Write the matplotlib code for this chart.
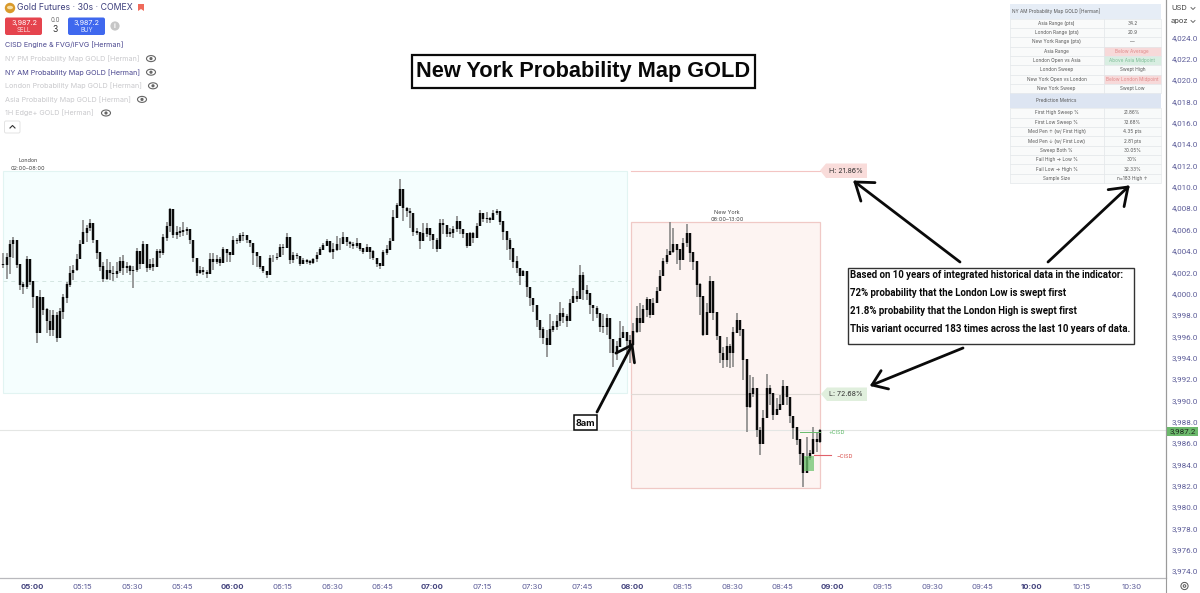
import numpy as np
import matplotlib
matplotlib.use("Agg")
import matplotlib.pyplot as plt
from matplotlib.patches import Rectangle, FancyBboxPatch, Polygon, Circle, Ellipse

# ---------- data ----------
closes = [
4002.7,4003.4,4004.6,4005.0,4002.7,4000.8,4000.6,4003.2,4001.1,3999.7,3996.3,3999.6,3998.5,3997.4,3996.6,3997.9,3995.8,3998.3,3999.6,4000.8,
4001.9,4002.2,4003.2,4004.6,4005.7,4006.1,4006.6,4005.0,4003.8,4002.5,4001.4,4002.2,4001.9,4001.8,4002.1,4003.0,4002.4,4002.5,4002.1,4002.2,
4003.9,4002.8,4004.6,4002.4,4002.7,4002.5,4003.9,4003.8,4005.2,4006.3,4007.9,4005.5,4005.7,4005.8,4005.9,4006.0,4005.0,4003.3,4001.9,4002.2,4002.0,4001.8,
4003.2,4003.0,4003.2,4002.9,4004.1,4003.8,4003.6,4005.0,4004.9,4005.4,4005.4,4005.0,4004.7,4003.8,4003.5,4002.5,4002.1,4001.7,4003.3,4003.3,
4003.4,4004.3,4004.3,4005.2,4003.1,4003.6,4003.5,4002.8,4003.1,4003.0,4002.9,4003.2,4003.6,4004.1,4004.5,4004.9,4003.9,4004.1,4004.6,4004.6,
4005.2,4004.8,4004.6,4004.5,4004.7,4004.2,4003.9,4004.3,4003.9,4003.3,4002.8,4002.6,4003.8,4004.1,4004.9,4007.1,4008.2,4009.7,4008.0,4007.7,4007.5,4005.8,4005.7,
4004.9,4005.6,4006.1,4005.5,4005.0,4004.2,4006.6,4006.4,4005.6,4005.7,4006.0,4006.7,4006.0,4005.6,4004.45,4005.6,4005.2,4006.3,4007.45,4007.0,
4007.0,4006.9,4007.5,4007.7,4006.7,4005.8,4005.0,4004.2,4003.0,4002.35,4001.6,4002.05,4000.6,3999.55,3998.9,3997.5,3996.6,3995.8,3995.2,3996.6,
3996.9,3997.4,3998.1,3997.8,3997.4,3999.1,3999.7,3999.5,4001.7,4000.3,4000.0,3998.9,3998.6,3998.1,3996.9,3996.9,3997.7,3995.7,3994.4,3995.0,3995.8,3996.3,3995.6,
3995.2,3996.4,3997.7,3997.2,3998.5,3999.4,3998.0,3999.1,4000.2,4001.6,4003.0,4003.6,4003.9,4004.6,4004.1,4003.15,4004.7,4005.65,4003.8,4003.0,
4000.8,3999.7,3996.1,3998.2,4001.1,3998.2,3996.0,3994.4,3993.8,3995.0,3994.4,3996.3,3997.5,3996.6,3993.8,3989.4,3990.6,3991.1,3987.2,3985.95,
3988.3,3991.1,3990.6,3988.6,3989.1,3989.6,3991.3,3990.3,3988.5,3987.4,3986.3,3985.0,3983.2,3984.6,3985.0,3986.3,3986.1,3987.2]
highs = [
4003.8,4003.8,4005.0,4005.3,4003.4,4002.3,4001.1,4003.5,4003.2,4001.0,3999.6,4000.3,3999.6,3998.6,3998.5,3998.5,3998.3,3998.6,4000.0,4001.1,
4002.6,4002.7,4003.7,4005.0,4006.9,4006.4,4007.0,4006.2,4005.0,4003.7,4003.0,4003.2,4003.0,4002.6,4003.0,4003.4,4003.6,4003.0,4002.7,4002.6,
4004.3,4003.8,4004.9,4003.6,4003.2,4003.3,4004.2,4004.2,4005.6,4006.7,4008.0,4006.9,4006.3,4006.2,4006.7,4006.2,4005.4,4004.2,4003.0,4002.6,4002.5,4002.2,
4003.8,4003.8,4003.6,4003.4,4004.4,4004.1,4003.9,4005.4,4005.2,4005.7,4005.8,4005.4,4004.9,4004.5,4003.8,4002.9,4002.4,4002.0,4003.6,4003.6,
4003.8,4004.6,4004.6,4005.7,4004.1,4003.85,4003.8,4003.2,4003.3,4003.2,4003.15,4003.3,4003.9,4004.35,4004.75,4005.1,4004.65,4004.7,4005.4,4005.2,
4005.8,4005.0,4004.9,4004.8,4005.2,4004.4,4004.2,4004.6,4004.25,4004.1,4003.15,4002.9,4004.1,4004.55,4005.2,4007.85,4008.5,4010.7,4008.65,4008.15,4008.0,4006.9,4006.1,
4005.6,4006.6,4006.6,4006.0,4005.6,4005.2,4007.0,4007.0,4006.1,4006.1,4006.3,4007.3,4006.4,4006.0,4005.0,4005.8,4005.8,4006.6,4007.8,4007.35,
4007.6,4007.2,4007.8,4007.9,4007.7,4006.6,4005.6,4005.2,4003.3,4003.5,4002.05,4002.2,4001.9,4000.0,3999.4,3998.1,3997.0,3996.9,3996.6,3998.1,
3997.4,3998.0,3999.2,3998.6,3998.1,3999.5,4000.5,4000.2,4002.7,4002.0,4000.8,3999.7,3998.9,3998.8,3997.8,3998.1,3998.1,3996.6,3995.2,3995.6,3997.4,3997.0,3996.1,
3996.1,3997.2,3998.8,3999.1,3998.9,3999.65,3999.4,3999.55,4000.65,4002.2,4003.3,4004.2,4006.7,4006.1,4004.55,4004.1,4005.2,4006.5,4005.0,4003.3,
4002.2,4001.0,3998.15,3999.1,4001.6,3999.9,3997.8,3995.5,3995.0,3995.9,3995.3,3996.9,3998.2,3997.2,3996.0,3991.6,3992.4,3992.2,3990.8,3987.5,
3989.1,3992.5,3991.4,3989.9,3990.2,3990.5,3991.9,3991.0,3990.3,3988.0,3986.9,3985.95,3984.7,3986.6,3985.3,3987.5,3987.05,3987.3]
lows = [
4002.4,4001.4,4001.8,4003.3,4002.4,4000.3,4000.0,4000.4,4000.8,3998.6,3995.4,3997.0,3998.0,3996.3,3996.0,3996.0,3995.5,3996.9,3997.6,3999.1,
4000.6,4001.3,4002.1,4003.4,4004.9,4004.8,4005.9,4004.7,4003.2,4002.1,4001.1,4001.3,4001.3,4001.2,4001.5,4001.9,4001.7,4001.9,4001.7,4000.5,
4002.0,4002.3,4003.0,4002.0,4002.2,4002.1,4002.9,4003.3,4003.6,4004.9,4005.8,4005.2,4005.1,4005.3,4005.4,4005.5,4004.6,4003.0,4001.6,4001.8,4001.7,4001.5,
4002.9,4002.2,4002.8,4002.6,4003.3,4003.0,4003.0,4004.1,4004.6,4004.7,4004.9,4004.7,4004.4,4002.7,4002.5,4002.3,4001.9,4001.5,4002.2,4003.0,
4003.1,4003.6,4003.6,4004.3,4002.8,4002.85,4003.2,4002.6,4002.85,4002.75,4002.7,4002.8,4003.0,4003.8,4004.25,4004.65,4003.8,4003.2,4003.95,4004.1,
4004.6,4004.5,4004.25,4004.15,4004.25,4003.95,4003.7,4003.95,4003.2,4003.1,4002.5,4002.3,4002.85,4003.6,4004.35,4005.65,4007.5,4008.65,4006.75,4007.2,4006.1,4005.4,4005.5,
4004.2,4005.0,4005.3,4004.9,4004.2,4003.9,4005.8,4005.6,4005.3,4005.3,4005.2,4005.8,4005.6,4005.2,4004.3,4004.9,4004.7,4005.5,4006.6,4006.7,
4006.6,4006.6,4007.2,4007.35,4006.4,4005.0,4004.1,4003.1,4002.35,4001.9,4000.8,4001.7,3999.7,3998.8,3998.3,3996.9,3995.8,3995.3,3994.1,3996.0,
3996.4,3996.6,3997.0,3997.2,3996.9,3997.7,3999.2,3999.2,4000.3,3999.4,3999.4,3998.1,3997.4,3997.7,3996.4,3996.3,3996.1,3994.4,3993.1,3993.8,3995.3,3995.8,3994.4,
3993.5,3996.0,3996.3,3996.4,3997.7,3997.8,3997.7,3998.5,3999.4,4000.8,4002.4,4002.8,4003.8,4003.8,4002.8,4002.2,4003.9,4004.4,4003.0,4002.2,
3999.7,3998.0,3996.0,3996.4,3999.4,3997.5,3995.65,3993.5,3993.0,3993.15,3993.0,3993.15,3996.6,3996.0,3991.9,3987.05,3989.25,3990.3,3986.6,3984.85,
3986.9,3990.3,3989.55,3988.15,3988.6,3989.1,3990.2,3989.55,3987.85,3986.4,3985.8,3983.9,3981.9,3983.8,3984.4,3985.2,3985.2,3986.0]
first_bar_minute = 291.4

london = dict(start=291.3, end=478.5, high=4011.5, low=3990.7, mid=4001.2)
newyork = dict(start=479.7, end=536.4, high=4006.7, low=3981.8)
h_level = 4011.5
l_level = 3990.6
last_price = 3987.2
cisd_up = 3987.0
cisd_down = 3984.85
fvg = dict(start=531.6, end=534.6, high=3984.8, low=3983.4)

time_minutes = list(range(300, 631, 15))
time_labels = ["05:00","05:15","05:30","05:45","06:00","06:15","06:30","06:45","07:00","07:15","07:30","07:45",
               "08:00","08:15","08:30","08:45","09:00","09:15","09:30","09:45","10:00","10:15","10:30"]
price_ticks = list(range(3974, 4025, 2))

table_title = "NY AM Probability Map GOLD [Herman]"
table_a = [("Asia Range (pts)","34.2"),("London Range (pts)","20.9"),("New York Range (pts)","—"),
           ("Asia Range","Below Average"),("London Open vs Asia","Above Asia Midpoint"),
           ("London Sweep","Swept High"),("New York Open vs London","Below London Midpoint"),("New York Sweep","Swept Low")]
table_head2 = "Prediction Metrics"
table_b = [("First High Sweep %","21.86%"),("First Low Sweep %","72.68%"),("Med Pen ↑ (w/ First High)","4.35 pts"),
           ("Med Pen ↓ (w/ First Low)","2.81 pts"),("Sweep Both %","30.05%"),("Fail High → Low %","30%"),
           ("Fail Low → High %","32.33%"),("Sample Size","n=183 High ↑")]
note_lines = ["Based on 10 years of integrated historical data in the indicator:",
              "72% probability that the London Low is swept first",
              "21.8% probability that the London High is swept first",
              "This variant occurred 183 times across the last 10 years of data."]
indicators = [("CISD Engine & FVG/iFVG [Herman]",True,None),("NY PM Probability Map GOLD [Herman]",False,151),
              ("NY AM Probability Map GOLD [Herman]",True,151),("London Probability Map GOLD [Herman]",False,153),
              ("Asia Probability Map GOLD [Herman]",False,142),("1H Edge+ GOLD [Herman]",False,106)]

# ---------- figure ----------
W, H = 1200, 593
plt.rcParams['font.family'] = ['Inter', 'DejaVu Sans']
fig = plt.figure(figsize=(W/100, H/100), dpi=100, facecolor="white")
AX_R, AX_B = 1166, 578
ax = fig.add_axes([0, 1-AX_B/H, AX_R/W, AX_B/H])
ax.set_xlim(290.4, 640.2)
ax.set_ylim(3973.35, 4027.5)
for s in ["top", "left"]:
    ax.spines[s].set_visible(False)
ax.spines["right"].set_color("#9a9a9a"); ax.spines["right"].set_linewidth(0.8)
ax.spines["bottom"].set_color("#b9b9bd"); ax.spines["bottom"].set_linewidth(0.9)
TICK = "#5c5c98"
ax.yaxis.tick_right()
ax.set_yticks(price_ticks)
ax.set_yticklabels([f"{p:,.1f}" for p in price_ticks], fontsize=5.75, color=TICK, family="Roboto")
ax.tick_params(axis="y", length=0, pad=4.2)
ax.set_xticks(time_minutes)
ax.set_xticklabels(time_labels, fontsize=5.6, color=TICK)
ax.tick_params(axis="x", length=0, pad=4.5)
for lab, m in zip(ax.get_xticklabels(), time_minutes):
    if m % 60 == 0:
        lab.set_fontweight("bold"); lab.set_color("#45457f")

ax.add_patch(Rectangle((london["start"], london["low"]), london["end"]-london["start"], london["high"]-london["low"],
                       fc="#f5fefe", ec="#e2f4f2", lw=0.8, zorder=1))
ax.plot([london["start"], london["end"]], [london["mid"]]*2, color="#d5e6e2", lw=0.7, ls=(0, (4, 4)), zorder=1.5)
ax.add_patch(Rectangle((newyork["start"], newyork["low"]), newyork["end"]-newyork["start"], newyork["high"]-newyork["low"],
                       fc="#fdf4f2", ec="#f0c9c6", lw=0.9, zorder=1))
ax.plot([newyork["start"], newyork["end"]], [h_level]*2, color="#f3c5c3", lw=0.8, zorder=1.5)
ax.plot([newyork["start"], newyork["end"]], [l_level]*2, color="#e0dad6", lw=0.8, zorder=1.5)
ax.axhline(last_price, color="#e4e6e4", lw=0.8, zorder=1.6)

n = len(closes)
t = first_bar_minute + np.arange(n)
c = np.array(closes); hi = np.array(highs); lo = np.array(lows)
o = np.r_[c[0], c[:-1]]
ax.vlines(t, lo, hi, color="#7f7f7f", lw=1.1, zorder=3)
ax.vlines(t, np.minimum(o, c), np.maximum(o, c)+0.05, color="#0b0b0b", lw=1.75, zorder=4)

ax.add_patch(Rectangle((fvg["start"], fvg["low"]), fvg["end"]-fvg["start"], fvg["high"]-fvg["low"],
                       fc="#6fc46f", ec="none", alpha=0.75, zorder=5))
ax.plot([530.3, newyork["end"]], [cisd_up]*2, color="#66bb6a", lw=0.7, zorder=5)
ax.plot([534.6, 539.8], [cisd_down]*2, color="#e0606a", lw=0.8, zorder=5)

# ---------- pixel overlay ----------
ov = fig.add_axes([0, 0, 1, 1], facecolor="none")
ov.set_xlim(0, W); ov.set_ylim(H, 0); ov.axis("off")
ov.set_zorder(10)
def txt(x, y, s, size=6, color="#222", ha="left", va="center", weight="normal", family=None, **kw):
    d = dict(fontsize=size, color=color, ha=ha, va=va, fontweight=weight)
    if family: d["family"] = family
    d.update(kw)
    return ov.text(x, y, s, **d)
def box(x0, y0, x1, y1, fc="none", ec="none", lw=0.8, z=2):
    ov.add_patch(Rectangle((x0, y0), x1-x0, y1-y0, fc=fc, ec=ec, lw=lw, zorder=z))
def arrow(x0, y0, x1, y1, head=17, lw=2.0):
    ov.plot([x0, x1], [y0, y1], color="#0a0a0a", lw=lw, solid_capstyle="round", zorder=8)
    a = np.arctan2(y0-y1, x0-x1)
    for d in (0.62, -0.62):
        ov.plot([x1, x1+head*np.cos(a+d)], [y1, y1+head*np.sin(a+d)], color="#0a0a0a", lw=lw, solid_capstyle="round", zorder=8)

# header
ov.add_patch(Circle((10, 8), 5.2, fc="#d99a2b", ec="none"))
ov.add_patch(Ellipse((10, 7.5), 6, 3.5, fc="#f6dfa8", ec="none"))
txt(17, 8, "Gold Futures · 30s · COMEX", 6.3, "#3d3f7c")
ov.add_patch(Polygon([[138, 4], [144, 4], [144, 11], [141, 9], [138, 11]], fc="#ef6a5b", ec="none"))
ov.add_patch(FancyBboxPatch((5, 17.5), 37, 17.5, boxstyle="round,pad=0,rounding_size=2", fc="#e5444e", ec="none"))
ov.add_patch(FancyBboxPatch((68, 17.5), 37, 17.5, boxstyle="round,pad=0,rounding_size=2", fc="#3f68ee", ec="none"))
txt(24, 22.5, "3,987.2", 5.2, "white", ha="center"); txt(24, 30, "SELL", 4.4, "#ffdddd", ha="center")
txt(86.5, 22.5, "3,987.2", 5.2, "white", ha="center"); txt(86.5, 30, "BUY", 4.4, "#dde6ff", ha="center")
txt(55, 19.5, "0.0", 4.4, "#666", ha="center"); txt(55, 30, "3", 6.2, "#333", ha="center")
ov.add_patch(Circle((115, 26), 4.6, fc="#c6c6c6", ec="none")); txt(115, 26, "i", 5, "white", ha="center", weight="bold")
for i, (name, active, eye) in enumerate(indicators):
    y = 45 + i*13.6
    txt(5, y, name, 5.2, "#4a478f" if active else "#c9c9cc")
    if eye:
        ov.add_patch(Ellipse((eye, y), 9, 6, fc="none", ec="#666", lw=0.8))
        ov.add_patch(Circle((eye, y), 1.6, fc="#666", ec="none"))
ov.add_patch(FancyBboxPatch((4.5, 121), 15.5, 12, boxstyle="round,pad=0,rounding_size=1.5", fc="white", ec="#e3e3e3", lw=0.7))
ov.plot([10, 12.5, 15], [128, 125.5, 128], color="#333", lw=0.8)

# title
box(411.5, 54.5, 755, 88, fc="white", ec="#0a0a0a", lw=1.6, z=6)
txt(583, 72, "New York Probability Map GOLD", 15.7, "#080808", ha="center", weight="bold", family="Liberation Sans", zorder=7)

# session labels
txt(28, 161, "London", 4.0, "#444", ha="center"); txt(28, 168, "02:00–08:00", 4.0, "#444", ha="center")
txt(727, 213, "New York", 4.0, "#444", ha="center"); txt(727, 219.5, "08:00–13:00", 4.0, "#444", ha="center")
# tags
ov.add_patch(Polygon([[820, 170.5], [826, 163.5], [867, 163.5], [867, 178], [826, 178]], fc="#f9dcda", ec="none"))
txt(829, 171, "H: 21.86%", 5.1, "#333")
ov.add_patch(Polygon([[821, 394], [827, 387.5], [867, 387.5], [867, 401], [827, 401]], fc="#e0efdd", ec="none"))
txt(829, 394.5, "L: 72.68%", 5.1, "#333")
txt(828, 433, "+CISD", 3.9, "#5fb96a"); txt(836, 456, "−CISD", 3.9, "#d9534f")

# 8am callout and arrows
box(574, 415, 596.5, 430, fc="white", ec="#0a0a0a", lw=1.1, z=6)
txt(585, 423, "8am", 6.6, "#0a0a0a", ha="center", weight="bold", zorder=7)
arrow(597, 412, 632, 345, head=18)
arrow(960, 262, 855, 182, head=20)
arrow(1048, 262, 1128, 187, head=20)
arrow(963, 348, 872, 385, head=17)

# note box
box(848, 267.5, 1134, 344, fc="white", ec="#333", lw=1.0, z=6)
for i, line in enumerate(note_lines):
    txt(850.5, 274.5 + i*18, line, 6.92, "#0a0a0a", weight="bold", family="Roboto", zorder=7)

# probability table
L, M, R = 1009.5, 1103.5, 1161
ROW = 9.35
box(L, 3.5, R, 183.5, fc="#f4f6f8", ec="none", z=3)
box(L, 3.5, R, 18.5, fc="#e6edf6", ec="none", z=3)
txt(L+3, 11, table_title, 3.4, "#555", zorder=5)
def rows(items, y0):
    for i, (a, b) in enumerate(items):
        y = y0 + i*ROW
        fc = "#f8fafa"
        if b.startswith("Below"): fc = "#f7d9d9"
        if b.startswith("Above"): fc = "#d9eee2"
        box(L, y, M, y+ROW, fc="#f9fafa", ec="#e2e5e8", lw=0.4, z=4)
        box(M, y, R, y+ROW, fc=fc, ec="#e2e5e8", lw=0.4, z=4)
        col = "#e08a8a" if b.startswith("Below") else ("#7dbd97" if b.startswith("Above") else "#555")
        txt((L+M)/2, y+ROW/2, a, 3.4, "#555", ha="center", zorder=5)
        txt((M+R)/2, y+ROW/2, b, 3.4, col, ha="center", zorder=5)
rows(table_a, 18.5)
box(L, 93.3, R, 108.3, fc="#dde5f2", ec="none", z=3)
txt((L+M)/2, 100.8, table_head2, 3.4, "#555", ha="center", zorder=5)
rows(table_b, 108.3)

# right scale
txt(1171, 8, "USD", 5.4, "#444")
txt(1171, 21.5, "apoz", 5.4, "#444")
ov.plot([1191, 1193, 1195], [7.5, 9.5, 7.5], color="#555", lw=0.6)
ov.plot([1191, 1193, 1195], [20.5, 22.5, 20.5], color="#555", lw=0.6)
ov.plot([AX_R, AX_R], [0, 593], color="#9a9a9a", lw=0.8)
box(1167, 427, 1198, 436, fc="#6cb96c", ec="none", z=5)
txt(1182.5, 431.5, "3,987.2", 5.75, "#1c2a1c", ha="center", family="Roboto", zorder=6)
ov.add_patch(Circle((1184.5, 586), 3.6, fc="none", ec="#555", lw=0.7))
ov.add_patch(Circle((1184.5, 586), 1.3, fc="none", ec="#555", lw=0.7))

fig.savefig("out.png", dpi=100)
